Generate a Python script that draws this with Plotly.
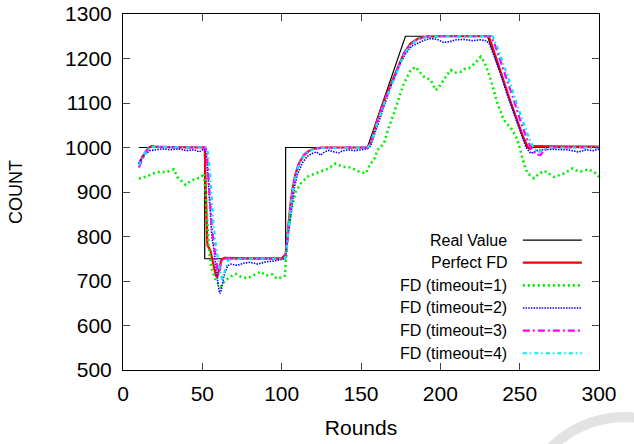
import plotly.graph_objects as go
import math

# ---------------- data ----------------
real_x = [10, 51.5, 51.5, 102.5, 102.5, 154, 178, 229.7, 254.5, 300]
real_y = [1000, 1000, 750, 750, 1000, 1000, 1250, 1250, 1000, 1000]

perfect_x = [10, 12, 14.2, 16.3, 18, 20, 30, 40, 50, 51.5, 52.5, 53.2, 55, 57, 58.5, 59.5, 60.5, 62, 64, 70, 80, 90, 100,
             102.5, 104, 105.6, 107, 108.8, 111, 114, 117, 120, 125, 140, 154, 156, 160.3, 165, 170.8, 174, 177, 181.3,
             186, 191.9, 200, 215, 229.7, 230.5, 232, 236, 240, 244, 248, 252, 255.3, 256.5, 258, 270, 285, 300]
perfect_y = [962, 978, 990, 1000, 1003, 1002, 1001, 1001, 1001, 1000, 860, 780, 770, 735, 712, 710, 728, 748, 752, 751, 751, 751, 751,
             760, 820, 874, 910, 942, 965, 983, 992, 997, 1000, 1000, 1000, 1010, 1062, 1110, 1159, 1188, 1212, 1234,
             1245, 1249, 1250, 1250, 1250, 1250, 1235, 1190, 1148, 1105, 1065, 1025, 1000, 997, 1003, 1002, 1002, 1002]

t1_x = [10, 12, 15, 19.5, 23.7, 27, 30, 32, 34.2, 37, 39.5, 42.6, 46, 49, 51, 52, 53, 54, 55.2, 56.5, 58.4, 60, 61.5, 64,
        67.8, 71, 74, 78.4, 82.5, 86.8, 90, 94, 97, 100, 102, 103, 104, 105.6, 108.8, 112, 116.2, 120, 124.6, 129, 134,
        138.3, 143.5, 148.7, 153, 156, 158.2, 160.3, 164.5, 167, 170.8, 174, 177, 181.3, 184.5, 187.6, 190, 193.9, 197,
        199, 201.3, 204, 206.6, 209, 212.9, 215, 218, 222, 225.5, 228, 229.7, 231.8, 236, 240, 245.5, 248.6, 250.7, 253,
        255, 259, 262, 265.4, 268, 271.7, 275, 278, 283.3, 286, 288.5, 291, 293.8, 296, 298, 300]
t1_y = [930, 932, 935, 942, 946, 944, 949, 951, 934, 925, 916, 925, 930, 932, 942, 900, 840, 780, 740, 720, 702, 695, 687, 700,
        710, 716, 710, 706, 713, 721, 712, 715, 705, 708, 712, 760, 815, 852, 900, 919, 934, 940, 946, 952, 964,
        957, 955, 946, 942, 964, 972, 994, 1009, 1040, 1077, 1110, 1144, 1174, 1181, 1167, 1158, 1152, 1129,
        1135, 1148, 1162, 1174, 1168, 1170, 1176, 1178, 1190, 1204, 1190, 1174, 1152, 1099, 1062, 1039, 1017, 990, 960,
        942, 931, 940, 948, 942, 934, 938, 942, 953, 948, 946, 948, 951, 945, 942, 934]

t2_x = [10, 12, 14, 17, 20, 25, 30, 35, 40, 45, 48, 51, 52, 53, 54, 55, 56, 57.3, 58.5, 60, 61, 62, 63.5, 65.8, 68, 72, 76,
        80, 85, 90, 95, 100, 102, 102.5, 104, 106, 108, 110, 113, 116, 120, 122, 124.6, 127, 130, 133, 136, 138, 142,
        146, 150, 154, 156, 160, 165, 170, 174, 178, 182, 185.5, 190, 194, 198, 202, 206, 210, 215, 220, 225, 229,
        231, 234, 238, 242, 246, 250, 254, 257, 261, 265, 270, 280, 284, 287, 292, 296, 300]
t2_y = [965, 975, 985, 993, 995, 997, 995, 997, 993, 995, 990, 997, 995, 970, 910, 850, 800, 770, 730, 690, 672, 680, 710, 734,
        738, 735, 740, 742, 738, 743, 745, 748, 750, 755, 800, 860, 910, 940, 965, 980, 988, 990, 983, 990, 994, 990,
        988, 992, 995, 993, 995, 997, 1003, 1045, 1100, 1150, 1185, 1210, 1228, 1234, 1241, 1245, 1243, 1236, 1238,
        1242, 1243, 1240, 1242, 1240, 1232, 1205, 1165, 1120, 1080, 1040, 1000, 987, 993, 995, 996, 995, 992, 990,
        995, 993, 996]

t3_x = [10, 12, 14, 16, 18, 25, 50, 52, 53, 54, 55, 56, 57, 58, 59, 60, 61, 62, 64, 70, 102, 103, 104.5, 106, 108, 110,
        113, 116, 120, 125, 154, 156, 160.3, 165, 170.8, 174, 177, 181.3, 186, 192, 200, 231, 232, 234, 238, 242, 246,
        250, 254, 257, 260, 263, 266, 270, 300]
t3_y = [955, 972, 988, 997, 1002, 1001, 1001, 1000, 980, 920, 870, 820, 790, 765, 735, 715, 725, 745, 752, 750, 750, 770,
        830, 880, 925, 955, 978, 990, 996, 999, 1000, 1008, 1058, 1105, 1155, 1185, 1210, 1232, 1244, 1249, 1250,
        1250, 1250, 1235, 1195, 1155, 1110, 1065, 1025, 1000, 985, 983, 995, 1000, 1000]

t4_x = [10, 12, 14, 16, 18, 25, 50, 52, 53.5, 55, 56, 57, 58.5, 60, 61.5, 62.6, 64, 66, 68, 80, 102, 103, 104.5, 106,
        108, 110, 113, 116, 120, 125, 154, 156, 160.3, 165, 170.8, 174, 177, 181.3, 186, 192, 200, 232, 233, 236,
        240, 244, 248, 252, 256, 259, 262, 265, 268, 300]
t4_y = [960, 974, 989, 998, 1001, 1001, 1001, 1000, 990, 940, 880, 830, 780, 745, 715, 702, 720, 745, 750, 750, 750, 768,
        828, 878, 922, 953, 977, 989, 996, 999, 1000, 1007, 1056, 1103, 1153, 1184, 1209, 1231, 1243, 1249, 1250,
        1250, 1250, 1225, 1185, 1145, 1100, 1060, 1020, 998, 990, 995, 1000, 1000]

series = [
    ("Real Value", real_x, real_y, "black", 1.2, "solid"),
    ("Perfect FD", perfect_x, perfect_y, "#ff0000", 2.2, "solid"),
    ("FD (timeout=1)", t1_x, t1_y, "#00ee00", 2.6, "2px,3px"),
    ("FD (timeout=2)", t2_x, t2_y, "#0000ff", 1.6, "1.5px,1.2px"),
    ("FD (timeout=3)", t3_x, t3_y, "#ff00ff", 2.2, "7px,3px,2px,3px"),
    ("FD (timeout=4)", t4_x, t4_y, "#00eeee", 2.2, "4px,3px,1.5px,3px"),
]

x_ticks = [0, 50, 100, 150, 200, 250, 300]
y_ticks = [500, 600, 700, 800, 900, 1000, 1100, 1200, 1300]

FONT = "Liberation Sans, Arial, Helvetica, sans-serif"

fig = go.Figure()
for name, xs, ys, col, w, dash in series:
    fig.add_trace(go.Scatter(x=xs, y=ys, mode="lines", name=name,
                             line=dict(color=col, width=w, dash=dash),
                             showlegend=False))

# gnuplot-style key (text left, sample right), in paper coordinates
key_top = 0.365
key_step = 0.0636
shapes = []
annots = []
for i, (name, xs, ys, col, w, dash) in enumerate(series):
    yk = key_top - i * key_step
    annots.append(dict(x=0.810, y=yk, xref="paper", yref="paper", text=name,
                       showarrow=False, xanchor="right", yanchor="middle",
                       font=dict(family=FONT, size=16, color="black")))
    shapes.append(dict(type="line", xref="paper", yref="paper",
                       x0=0.840, x1=0.964, y0=yk, y1=yk,
                       line=dict(color=col, width=w, dash=dash)))

# faint watermark arc in the lower right corner
pts = []
for k in range(0, 31):
    ang = math.radians(222 - k * (222 - 80) / 30)
    px = 625 + 105 * math.cos(ang)
    py = 522 - 105 * math.sin(ang)
    pts.append(((px - 123) / 476, (370 - py) / 356))
path = "M " + " L ".join(f"{a:.4f},{b:.4f}" for a, b in pts)
shapes.insert(0, dict(type="path", xref="paper", yref="paper", path=path,
                      line=dict(color="#e3e3e3", width=10), layer="below"))

fig.update_layout(
    width=634, height=444,
    margin=dict(l=123, r=35, t=14, b=74, autoexpand=False),
    paper_bgcolor="white", plot_bgcolor="white",
    font=dict(family=FONT, color="black"),
    shapes=shapes, annotations=annots,
)
fig.update_xaxes(range=[0, 300], tickvals=x_ticks, ticks="inside", ticklen=7,
                 showline=True, linecolor="black", linewidth=1, mirror="allticks",
                 showgrid=False, zeroline=False, tickfont=dict(size=21, family=FONT),
                 ticklabelstandoff=5, automargin=False,
                 title=dict(text="Rounds", font=dict(size=21, family=FONT), standoff=16))
fig.update_yaxes(range=[500, 1300], tickvals=y_ticks, ticks="inside", ticklen=7,
                 showline=True, linecolor="black", linewidth=1, mirror="allticks",
                 showgrid=False, zeroline=False, tickfont=dict(size=21, family=FONT),
                 ticklabelstandoff=6, automargin=False,
                 title=dict(text="COUNT", font=dict(size=18, family=FONT), standoff=37))

fig.write_html("out.html")
